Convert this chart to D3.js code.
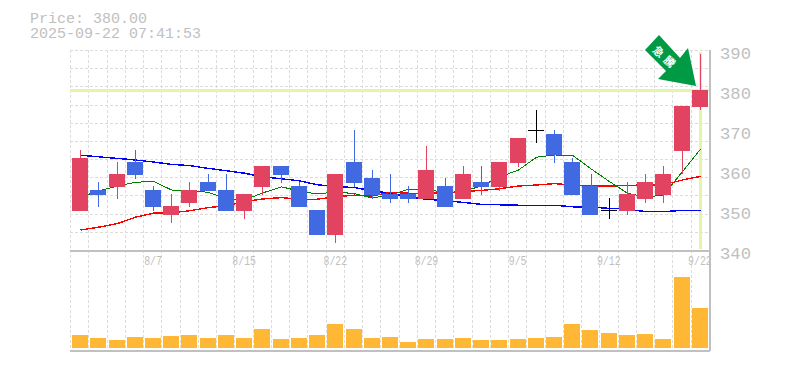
<!DOCTYPE html>
<html>
<head>
<meta charset="utf-8">
<script src="https://cdnjs.cloudflare.com/ajax/libs/d3/7.8.5/d3.min.js"></script>
<style>
  html, body { margin: 0; padding: 0; background: #fff; }
  svg { display: block; }
  text { font-family: "Liberation Mono", monospace; fill: #c0c0c0; }
  .grid line { stroke: #dcdcdc; stroke-width: 1; stroke-dasharray: 3 2; shape-rendering: crispEdges; }
  .frame { stroke: #c0c0c0; stroke-width: 2; shape-rendering: crispEdges; }
  .ma { fill: none; stroke-width: 1; shape-rendering: crispEdges; }
</style>
</head>
<body>
<script>
// trading days
var dates = ["8/1","8/4","8/5","8/6","8/7","8/8","8/12","8/13","8/14","8/15",
             "8/18","8/19","8/20","8/21","8/22","8/25","8/26","8/27","8/28","8/29",
             "9/1","9/2","9/3","9/4","9/5","9/8","9/9","9/10","9/11","9/12",
             "9/16","9/17","9/18","9/19","9/22"];

var opens  = [349.75,355,355.75,362,355,348.75,351.75,357,355,349.75,355.75,361,356,350,343.75,362,358,354,354,352.75,356,352.75,357,355.75,361.75,370,369,362,356,350,349.75,352.75,353.75,364.75,375.75];
var closes = [363,353.75,359,358.75,350.75,351,355,354.75,349.75,354,361,358.75,350.75,343.75,359,356.75,353.75,352.75,352.75,360,350.75,359,355.75,362,368,370,363.75,353.75,348.75,350,354,357,359,376,380];
var highs  = [365,357,362,365,356,354,357,359,359,354,361,361,357,350,359,370,360,359,356,366,358,361,361,362,368,375,370,363,359,353,357,359,361,376,389];
var lows   = [349.75,350.75,352.75,357.75,349.75,346.75,350.75,354.75,349.75,347.75,353.75,356.75,350.75,343.75,341.75,355.75,352.75,351.75,351.75,352.75,350.75,352.75,353.75,354.75,360.75,366.75,361.75,353.75,348.75,347.75,348.75,351.75,351.75,359,375];

var maLong  = [363.7,363.3,362.9,362.5,362,361.4,361.1,360.4,359.8,359.2,358.3,357.8,357.3,356.3,355.9,355.6,354.8,354.2,353.3,352.7,352.3,351.9,351.4,351.3,351.2,351.2,351.2,350.8,350.7,350.4,350.2,349.6,349.6,349.9,349.9];
var maShort = [353.25,354.75,356,356.9,357.2,355,354.9,354.4,352.75,352.5,354.25,355.8,354.7,354,354.5,354.1,353,353.75,355.2,355.2,354.3,354.7,356,358.25,360,363.2,363.75,363.7,360.2,357.1,354.2,353.2,353.75,359.6,365.2];
var maMid   = [345,345.7,346.6,348.2,349.2,349.3,349.8,350.6,351.1,352.1,352.75,353.1,352.7,352.7,353.3,353.7,353.5,354.4,354.2,354.2,354.25,354.6,354.9,355.3,356,356.25,356.6,356.25,356,356,356.1,356.3,356.3,357.5,358.4];

var volumes = [13,10,8,11,10,12,13,10,13,10,19,9,10,13,24,19,10,11,6,9,9,10,8,8,9,10,11,24,18,15,13,14,9,71,40];

var priceTicks = [340,350,360,370,380,390];
var dateTicks = ["8/7","8/15","8/22","8/29","9/5","9/12","9/22"];
var lastPrice = 380;

var width = 785, height = 370;

var svg = d3.select("body").append("svg")
    .attr("width", width)
    .attr("height", height);

var x = d3.scaleBand()
    .domain(dates)
    .range([71, 709])
    .paddingInner(0.12)
    .paddingOuter(0.06);

var y = d3.scaleLinear().domain([340, 390]).range([250, 50]);
var yVol = d3.scaleLinear().domain([0, 71]).range([348, 277]);

function cx(i) { return Math.round(x(dates[i]) + x.bandwidth() / 2) + 0.5; }

// header
svg.append("text").attr("x", 30).attr("y", 23).style("font-size", "14px")
    .attr("textLength", 117).attr("lengthAdjust", "spacingAndGlyphs").text("Price: 380.00");
svg.append("text").attr("x", 30).attr("y", 38).style("font-size", "14px")
    .attr("textLength", 171).attr("lengthAdjust", "spacingAndGlyphs").text("2025-09-22 07:41:53");

// grid
var gx = d3.scaleLinear().domain([0, 35]).range([70.5, 709.5]);
var gy = d3.scaleLinear().domain([0, 11]).range([50.5, 250.5]);

var grid = svg.append("g").attr("class", "grid");
grid.selectAll(".h").data(d3.range(11)).enter().append("line")
    .attr("x1", 70).attr("x2", 710)
    .attr("y1", function(d) { return gy(d); })
    .attr("y2", function(d) { return gy(d); });
grid.selectAll(".v").data(d3.range(35)).enter().append("line")
    .attr("x1", function(d) { return gx(d); })
    .attr("x2", function(d) { return gx(d); })
    .attr("y1", 50).attr("y2", 250);
grid.selectAll(".v2").data(d3.range(35)).enter().append("line")
    .attr("x1", function(d) { return gx(d); })
    .attr("x2", function(d) { return gx(d); })
    .attr("y1", 250).attr("y2", 350);

// latest price markers
svg.append("line")
    .attr("x1", 70).attr("x2", 710)
    .attr("y1", y(lastPrice) + 0.5).attr("y2", y(lastPrice) + 0.5)
    .style("stroke", "#e4f5a8").style("stroke-width", 3).style("shape-rendering", "crispEdges");
svg.append("line")
    .attr("x1", cx(34)).attr("x2", cx(34))
    .attr("y1", 52).attr("y2", 249)
    .style("stroke", "#e4f5a8").style("stroke-width", 3).style("shape-rendering", "crispEdges");

// moving averages
var line = d3.line()
    .x(function(d, i) { return cx(i); })
    .y(function(d) { return y(d); });

[[maLong, "#0000ff"], [maMid, "#ff0000"], [maShort, "#008000"]].forEach(function(s) {
  svg.append("path")
      .attr("class", "ma")
      .attr("d", line(s[0]))
      .style("stroke", s[1])
      .style("stroke-width", s[1] == "#008000" ? 1 : 1.4);
});

// candles
function candleColor(i) {
  if (opens[i] == closes[i]) return "#000000";
  return closes[i] > opens[i] ? "#e24360" : "#4169e1";
}

var candles = svg.append("g").selectAll("g")
    .data(dates)
    .enter().append("g")
    .style("shape-rendering", "crispEdges");

candles.append("line")
    .attr("x1", function(d, i) { return cx(i); })
    .attr("x2", function(d, i) { return cx(i); })
    .attr("y1", function(d, i) { return y(highs[i]); })
    .attr("y2", function(d, i) { return y(lows[i]); })
    .style("stroke", function(d, i) { return candleColor(i); })
    .style("stroke-width", 1);

candles.append("rect")
    .attr("x", function(d) { return Math.round(x(d)); })
    .attr("width", 16)
    .attr("y", function(d, i) { return y(Math.max(opens[i], closes[i])); })
    .attr("height", function(d, i) { return Math.max(1, Math.abs(y(opens[i]) - y(closes[i]))); })
    .style("fill", function(d, i) { return candleColor(i); });

// volume
svg.append("g").selectAll("rect")
    .data(volumes)
    .enter().append("rect")
    .attr("x", function(d, i) { return Math.round(x(dates[i])); })
    .attr("width", 16)
    .attr("y", function(d) { return yVol(d); })
    .attr("height", function(d) { return yVol(0) - yVol(d); })
    .style("fill", "#ffb835")
    .style("shape-rendering", "crispEdges");

// frame
[[70, 250.5, 710, 250.5], [70, 350.5, 710, 350.5], [710, 50, 710, 351]].forEach(function(c) {
  svg.append("line").attr("class", "frame")
      .attr("x1", c[0]).attr("y1", c[1]).attr("x2", c[2]).attr("y2", c[3]);
});

// axes
var yAxis = d3.axisRight(y).tickValues(priceTicks).tickSize(0).tickPadding(0);
var ya = svg.append("g").attr("transform", "translate(720,0)").call(yAxis);
ya.select(".domain").remove();
ya.selectAll("text")
    .attr("dy", "8")
    .attr("textLength", 31)
    .attr("lengthAdjust", "spacingAndGlyphs")
    .style("font-size", "17px")
    .style("font-family", '"Liberation Mono", monospace');

var xAxis = d3.axisBottom(x).tickValues(dateTicks).tickSize(0).tickPadding(0);
var xa = svg.append("g").attr("transform", "translate(0,255)").call(xAxis);
xa.select(".domain").remove();
xa.selectAll("text")
    .attr("dy", "10")
    .style("font-size", "13px")
    .style("font-family", '"Liberation Mono", monospace')
    .attr("textLength", function(d) { return d.length * 5.9; })
    .attr("lengthAdjust", "spacingAndGlyphs");

// arrow pointing at the last candle
var tipX = cx(34) - 4.5, tipY = y(lastPrice) - 4;
var arrow = svg.append("g").attr("transform", "translate(" + tipX + "," + tipY + ")");
arrow.append("path")
    .attr("d", "M0,0 L-38,-7 L-30,-15 L-51,-36 L-37,-51 L-16,-28 L-8,-38 Z")
    .style("fill", "#009944");
arrow.append("text")
    .attr("transform", "translate(-30.5,-28) rotate(42)")
    .attr("text-anchor", "middle")
    .attr("dy", "4")
    .style("font-family", '"Noto Sans CJK JP"')
    .style("font-weight", "700")
    .style("font-size", "11px")
    .style("letter-spacing", "4px")
    .style("fill", "#ffffff")
    .text("急騰");
</script>
</body>
</html>
